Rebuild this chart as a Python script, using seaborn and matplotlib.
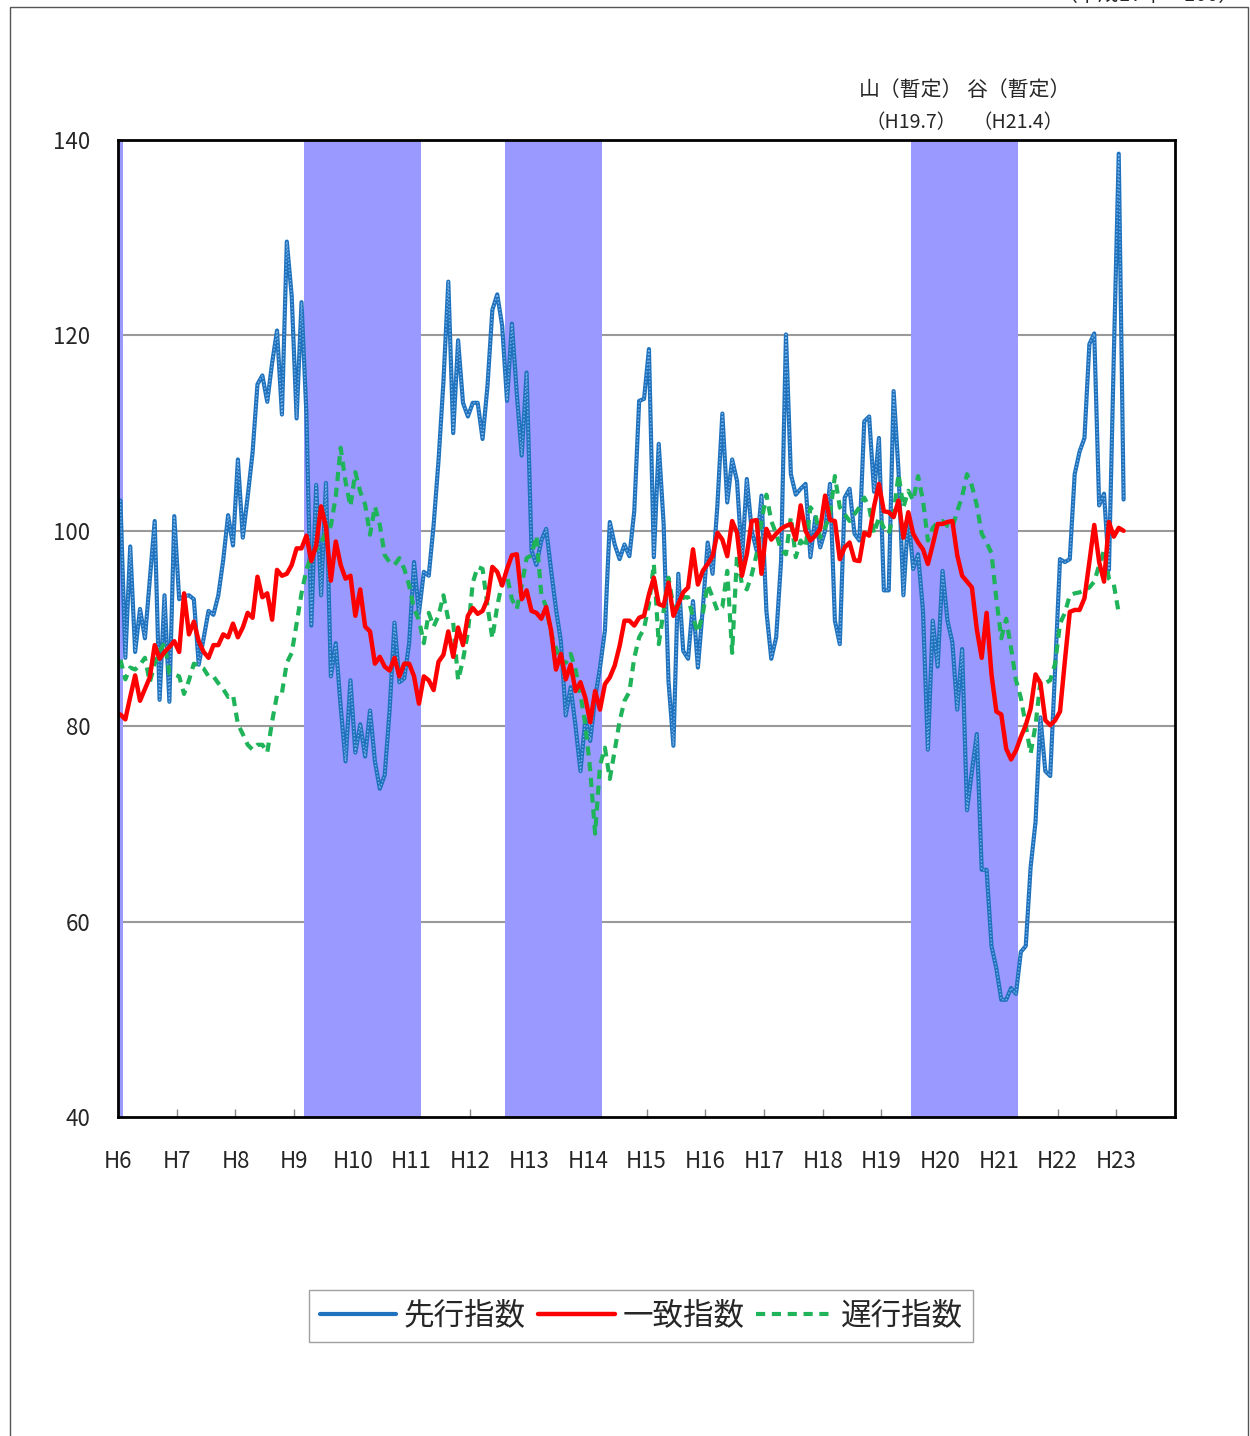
import numpy as np
import pandas as pd
import matplotlib
matplotlib.use("Agg")
import matplotlib.pyplot as plt
from matplotlib.patches import Rectangle
import seaborn as sns

# monthly CI values, H6.1 onward
leading = [
    103.1, 87.0, 98.4, 87.6, 92.0, 89.0, 95.0, 101.0, 82.7, 93.4, 82.5, 101.5,
    93.0, 93.3, 93.4, 93.0, 86.3, 89.0, 91.8, 91.4, 93.4, 97.0, 101.6, 98.5,
    107.3, 99.3, 103.5, 108.0, 115.0, 115.9, 113.2, 117.2, 120.5, 111.9, 129.6, 124.0,
    111.5, 123.4, 112.0, 90.3, 104.7, 93.4, 104.9, 85.1, 88.5, 82.0, 76.4, 84.7,
    77.3, 80.2, 76.9, 81.6, 76.4, 73.6, 75.0, 81.6, 90.6, 84.5, 84.9, 88.5,
    96.8, 91.6, 95.8, 95.4, 100.6, 107.2, 115.2, 125.5, 110.0, 119.5, 113.1, 111.7,
    113.1, 113.1, 109.4, 114.8, 122.6, 124.2, 121.0, 113.3, 121.2, 114.0, 107.7, 116.2,
    98.0, 96.5, 99.0, 100.2, 96.0, 92.0, 88.7, 81.1, 84.0, 80.0, 75.4, 80.7,
    78.5, 82.9, 86.0, 89.8, 100.9, 98.6, 97.1, 98.6, 97.4, 102.0, 113.3, 113.5,
    118.6, 97.3, 108.9, 100.7, 84.6, 78.0, 95.6, 87.7, 86.9, 92.8, 86.0, 92.0,
    98.8, 95.6, 102.7, 112.0, 102.9, 107.3, 105.1, 97.0, 105.3, 100.0, 98.0, 103.6,
    91.8, 86.9, 89.1, 96.9, 120.1, 105.8, 103.7, 104.3, 104.8, 97.3, 101.4, 98.3,
    100.0, 104.8, 90.8, 88.4, 103.4, 104.3, 99.7, 99.0, 111.2, 111.7, 104.0, 109.5,
    93.9, 93.9, 114.3, 106.1, 93.4, 101.7, 96.1, 97.6, 91.8, 77.6, 90.8, 86.1,
    95.9, 90.8, 88.6, 81.7, 87.9, 71.4, 75.4, 79.2, 65.3, 65.3, 57.5, 55.2,
    52.0, 52.0, 53.2, 52.6, 56.9, 57.5, 65.6, 70.2, 80.9, 75.4, 74.9, 85.8,
    97.1, 96.8, 97.1, 105.8, 108.1, 109.5, 119.1, 120.2, 102.6, 103.8, 96.0, 118.0,
    138.6, 103.2,
]
coincident = [
    81.2, 80.7, 83.0, 85.2, 82.6, 83.8, 85.0, 88.3, 86.9, 87.6, 88.1, 88.7,
    87.6, 93.6, 89.4, 90.7, 88.7, 87.6, 87.0, 88.3, 88.3, 89.4, 89.1, 90.5,
    89.1, 90.1, 91.6, 91.1, 95.3, 93.2, 93.6, 90.9, 96.0, 95.4, 95.6, 96.5,
    98.2, 98.2, 99.5, 96.9, 98.5, 102.5, 100.4, 94.9, 98.9, 96.5, 95.1, 95.4,
    91.3, 94.0, 90.2, 89.7, 86.4, 87.1, 86.1, 85.7, 87.0, 85.1, 86.4, 86.4,
    85.1, 82.3, 85.1, 84.7, 83.7, 86.6, 87.3, 89.7, 87.1, 90.1, 88.3, 91.3,
    92.1, 91.5, 91.8, 93.0, 96.3, 95.8, 94.4, 96.1, 97.5, 97.6, 93.0, 93.9,
    91.8, 91.6, 91.0, 92.2, 89.8, 85.8, 87.4, 84.8, 86.3, 83.6, 84.5, 82.9,
    80.4, 83.6, 81.7, 84.3, 85.0, 86.2, 88.2, 90.8, 90.8, 90.3, 91.1, 91.3,
    93.5, 95.2, 92.5, 92.3, 94.7, 91.3, 92.5, 93.7, 94.2, 98.1, 94.5, 95.9,
    96.6, 97.4, 99.8, 99.1, 97.4, 101.0, 99.8, 95.4, 97.6, 101.0, 101.1, 95.6,
    100.2, 99.1, 99.7, 100.2, 100.5, 100.7, 99.1, 102.6, 100.0, 99.0, 99.5, 100.2,
    103.6, 101.1, 101.0, 97.1, 98.3, 98.8, 97.0, 96.9, 99.8, 99.5, 102.5, 104.8,
    102.0, 101.9, 101.4, 103.1, 99.3, 101.9, 99.7, 98.8, 98.1, 96.6, 98.6, 100.7,
    100.7, 100.9, 101.0, 97.5, 95.4, 94.8, 94.2, 89.9, 87.0, 91.6, 85.3, 81.5,
    81.2, 77.7, 76.6, 77.5, 78.9, 80.1, 81.8, 85.3, 84.4, 80.6, 80.1, 80.6,
    81.5, 86.7, 91.7, 91.9, 91.9, 93.1, 96.8, 100.6, 96.8, 94.8, 100.9, 99.4,
    100.3, 100.0,
]
lagging = [
    86.8, 84.8, 86.0, 85.8, 86.3, 87.0, 84.5, 86.4, 87.7, 88.5, 85.4, 85.3,
    85.1, 83.3, 84.7, 86.4, 86.2, 85.9, 85.1, 85.1, 84.4, 83.8, 83.0, 83.2,
    80.2, 79.2, 78.1, 77.6, 78.1, 78.1, 77.3, 80.5, 83.2, 83.4, 86.5, 87.5,
    90.5, 93.6, 96.0, 97.5, 98.1, 98.8, 99.8, 100.5, 103.5, 108.5, 105.0, 102.5,
    106.0, 104.0, 102.7, 99.6, 102.5, 100.6, 97.5, 96.8, 96.5, 97.2, 96.1, 94.4,
    92.0, 90.9, 88.5, 91.6, 90.2, 91.3, 93.4, 90.9, 90.6, 84.7, 86.8, 89.6,
    94.7, 96.3, 96.1, 92.3, 89.0, 92.3, 94.7, 95.4, 93.0, 92.0, 94.4, 97.2,
    97.5, 99.5, 93.5, 92.2, 89.5, 88.0, 86.5, 86.5, 87.4, 85.8, 83.2, 80.2,
    75.5, 69.0, 76.0, 77.8, 74.6, 77.5, 80.5, 82.6, 83.5, 87.0, 89.1, 90.0,
    92.5, 96.6, 88.4, 91.8, 95.2, 92.2, 92.2, 93.2, 93.2, 91.1, 89.6, 91.5,
    94.5, 93.2, 91.8, 92.2, 95.9, 87.5, 97.6, 94.5, 94.0, 95.5, 97.6, 101.0,
    103.7, 101.0, 99.7, 98.0, 97.6, 101.4, 97.3, 99.0, 98.3, 102.4, 101.7, 99.3,
    100.3, 101.7, 105.6, 102.4, 101.7, 101.0, 101.7, 102.4, 103.4, 102.4, 99.7, 101.4,
    100.3, 99.7, 101.7, 105.8, 102.4, 104.1, 103.1, 105.6, 103.1, 99.0, 100.3, 100.9,
    101.0, 100.5, 100.3, 102.0, 103.5, 105.8, 104.6, 102.6, 99.7, 98.8, 97.7, 93.0,
    89.0, 91.0, 88.0, 84.7, 82.9, 80.1, 77.2, 80.1, 84.6, 84.4, 84.7, 86.4,
    90.5, 91.6, 93.4, 93.6, 93.7, 93.9, 94.2, 94.8, 96.5, 98.0, 95.1, 94.5,
    91.6,
]

year_labels = ["H%d" % y for y in range(6, 24)]
first_year = 6

# recession bands: (year, month) of peak and trough
peaks = [(6, 1), (9, 3), (12, 8), (19, 7)]
troughs = [(6, 1), (11, 2), (14, 3), (21, 4)]


def month_pos(ym):
    return (ym[0] - first_year) * 12 + (ym[1] - 1)


frames = []
for name, vals in [("先行指数", leading), ("一致指数", coincident), ("遅行指数", lagging)]:
    frames.append(pd.DataFrame({"month": np.arange(len(vals)) + 0.5,
                                "value": vals, "series": name}))
df = pd.concat(frames, ignore_index=True)

sns.set_theme(style="white")
plt.rcParams["font.family"] = ["Noto Sans CJK JP", "DejaVu Sans"]

fig = plt.figure(figsize=(12.5, 14.36), dpi=100)
ax = fig.add_axes([118 / 1250, 1 - 1117 / 1436, 1057 / 1250, 977 / 1436])

# grid below the bands
for g in [60, 80, 100, 120]:
    ax.axhline(g, color="#999999", lw=1.5, zorder=1)

for p, t in zip(peaks, troughs):
    ax.axvspan(month_pos(p), month_pos(t) + 1, color="#9999ff", lw=0, zorder=2)

colors = {"先行指数": "#1f72bd", "一致指数": "#ff0000", "遅行指数": "#1fb35a"}
sns.lineplot(data=df[df.series == "先行指数"], x="month", y="value",
             color=colors["先行指数"], lw=3, ax=ax, zorder=3, label="先行指数")
sns.lineplot(data=df[df.series == "先行指数"], x="month", y="value",
             color="#7fb4e6", lw=1, ls=(0, (1, 1.5)), ax=ax, zorder=3, legend=False)
sns.lineplot(data=df[df.series == "一致指数"], x="month", y="value",
             color=colors["一致指数"], lw=3.2, ax=ax, zorder=4, label="一致指数")
sns.lineplot(data=df[df.series == "遅行指数"], x="month", y="value",
             color=colors["遅行指数"], lw=3, ls=(0, (2.2, 1.6)), ax=ax, zorder=3,
             label="遅行指数")

ax.set_xlim(0, 216)
ax.set_ylim(40, 140)
ax.set_xticks(np.arange(len(year_labels)) * 12)
ax.set_xticklabels(year_labels, fontsize=16)
ax.set_yticks(np.arange(40, 141, 20))
ax.tick_params(axis="y", labelsize=16, length=0, pad=20)
ax.tick_params(axis="x", direction="in", length=6, width=1, color="#888888",
               pad=24, bottom=True)
for lbl in ax.get_xticklabels():
    lbl.set_x(lbl.get_position()[0])
ax.set_xlabel("")
ax.set_ylabel("")
for s in ax.spines.values():
    s.set_color("black")
    s.set_linewidth(2)
    s.set_zorder(5)

# provisional peak / trough notes
for ym, lab, sub in [((19, 7), "山（暫定）", "（H19.7）"), ((21, 5), "谷（暫定）", "（H21.4）")]:
    xp = month_pos(ym)
    ax.text(xp, 145.1, lab, ha="center", va="center", fontsize=15)
    ax.text(xp, 141.8, sub, ha="center", va="center", fontsize=14)

handles, labels = ax.get_legend_handles_labels()
ax.legend_.remove()
leg = fig.legend(handles, labels, loc="center", bbox_to_anchor=(0.513, 0.0835),
                 ncol=3, fontsize=22, frameon=True, fancybox=False,
                 edgecolor="#888888", handlelength=2.5, handletextpad=0.25,
                 columnspacing=0.4, borderpad=0.35)
leg.get_frame().set_linewidth(1)

fig.text(1240 / 1250, 1 + 5 / 1436, "（平成17年＝100）", ha="right", va="center",
         fontsize=15)
fig.add_artist(Rectangle((10 / 1250, -0.01), 1238 / 1250, 1 - 7 / 1436 + 0.01,
                         transform=fig.transFigure, fill=False,
                         edgecolor="#555555", lw=1))

fig.savefig("out.png", dpi=100)
